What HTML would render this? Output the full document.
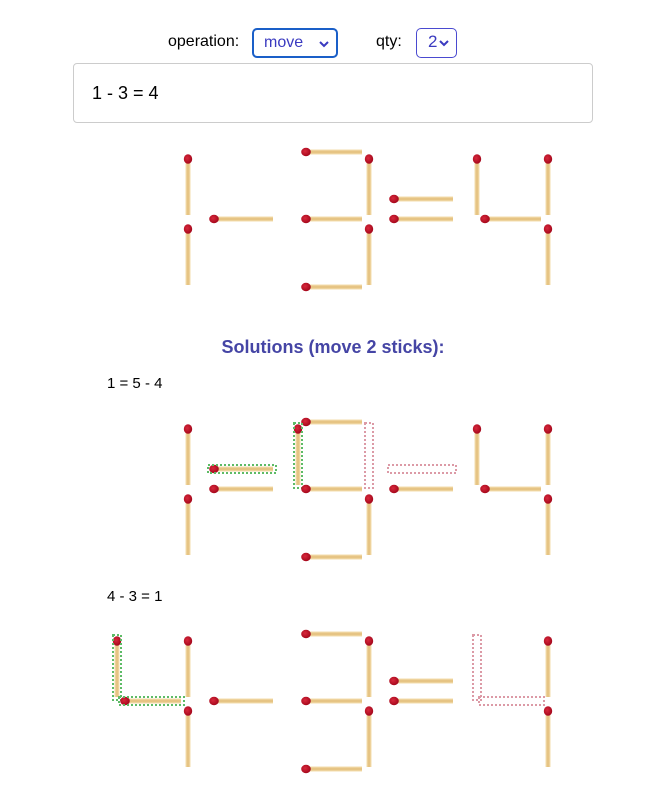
<!DOCTYPE html>
<html><head><meta charset="utf-8">
<style>
body{margin:0;width:666px;height:800px;background:#fff;font-family:"Liberation Sans",sans-serif;position:relative;overflow:hidden}
.abs{position:absolute}
.sel{position:absolute;border:2px solid #1a5fc8;border-radius:5px;color:#3a3ac0;font-size:16px;box-sizing:border-box;padding-left:10px;line-height:26px}
.chev{position:absolute;right:7px;top:0;font-size:12px}
</style></head><body>
<div class="abs" style="left:168px;top:33px;font-size:16px">operation:</div>
<div class="sel" style="left:252px;top:28px;width:86px;height:30px">move<svg class="chev" width="10" height="28" viewBox="0 0 10 28"><path d="M1 12 L5 16 L9 12" stroke="#3a3ac0" stroke-width="2" fill="none"/></svg></div>
<div class="abs" style="left:376px;top:33px;font-size:16px">qty:</div>
<div class="sel" style="left:416px;top:28px;width:41px;height:30px;border-width:1px;border-color:#4a4ad0;padding-left:11px;font-size:17px">2<svg class="chev" width="10" height="28" viewBox="0 0 10 28"><path d="M1 12 L5 16 L9 12" stroke="#3a3ac0" stroke-width="2" fill="none"/></svg></div>
<div class="abs" style="left:73px;top:63px;height:58px;border:1px solid #ccc;border-radius:4px;font-size:18px;line-height:58px;padding-left:18px;box-sizing:content-box;width:500px">1 - 3 = 4</div>
<div class="abs" style="left:0;width:666px;top:337px;text-align:center;font-size:18px;font-weight:bold;color:#4545a5">Solutions (move 2 sticks):</div>
<div class="abs" style="left:107px;top:375px;font-size:15px">1 = 5 - 4</div>
<div class="abs" style="left:107px;top:588px;font-size:15px">4 - 3 = 1</div>
<svg id="sv" class="abs" style="left:0;top:0" width="666" height="800">
<defs>
<linearGradient id="gv" x1="0" x2="1" y1="0" y2="0"><stop offset="0" stop-color="#f5e0b2"/><stop offset="0.5" stop-color="#e2bd78"/><stop offset="1" stop-color="#f5e0b2"/></linearGradient>
<linearGradient id="gh" x1="0" x2="0" y1="0" y2="1"><stop offset="0" stop-color="#f5e0b2"/><stop offset="0.5" stop-color="#e2bd78"/><stop offset="1" stop-color="#f5e0b2"/></linearGradient>
<radialGradient id="hd" cx="0.4" cy="0.4" r="0.6"><stop offset="0" stop-color="#d8283c"/><stop offset="1" stop-color="#a5081c"/></radialGradient>
</defs>
</svg>
<script>
const cellLeft=[117,207,298,387,477];
const rowTops=[152,422,634];
const row0=[["b","c"],["g"],["a","b","g","c","d"],["u","g"],["f","b","g","c"]];
const row1=[["b","c"],["u*","g"],["a","f*","g","c","d","b~"],["g","u~"],["f","b","g","c"]];
const row2=[["f*","g*","b","c"],["g"],["a","b","g","c","d"],["u","g"],["b","c","f~","g~"]];
const rows=[row0,row1,row2];
const sv=document.getElementById('sv');
const NS='http://www.w3.org/2000/svg';
function mk(t,a){const e=document.createElementNS(NS,t);for(const k in a)e.setAttribute(k,a[k]);return e;}
function geom(seg,L,T,op){
  if(op){if(seg==='g')return{h:1,x:L+6,y:T+67,len:60};if(seg==='u')return{h:1,x:L+6,y:T+47,len:60};}
  switch(seg){
    case'a':return{h:1,x:L+7,y:T,len:57};
    case'g':return{h:1,x:L+7,y:T+67,len:57};
    case'd':return{h:1,x:L+7,y:T+135,len:57};
    case'f':return{h:0,x:L,y:T+6,len:57};
    case'b':return{h:0,x:L+71,y:T+6,len:57};
    case'e':return{h:0,x:L,y:T+76,len:57};
    case'c':return{h:0,x:L+71,y:T+76,len:57};
  }
}
rows.forEach((row,ri)=>{
  const T=rowTops[ri];
  row.forEach((segs,ci)=>{
    const L=cellLeft[ci];const op=ci%2===1;
    segs.forEach(s=>{
      const seg=s[0];const mark=s[1]||'';
      const g=geom(seg,L,T,op);
      const grp=mk('g',{});
      
      
      let bx,by,bw,bh;
      if(g.h){bx=g.x-5;by=g.y-4;bw=g.len+8;bh=8;}else{bx=g.x-4;by=g.y-5;bw=8;bh=g.len+8;}
      if(mark!=='~'){
        if(g.h)grp.appendChild(mk('rect',{x:g.x,y:g.y-2.5,width:g.len,height:5,fill:'url(#gh)'}));
        else grp.appendChild(mk('rect',{x:g.x-2.5,y:g.y,width:5,height:g.len,fill:'url(#gv)'}));
        if(g.h)grp.appendChild(mk('ellipse',{cx:g.x+1,cy:g.y,rx:4.8,ry:4.2,fill:'url(#hd)'}));
        else grp.appendChild(mk('ellipse',{cx:g.x,cy:g.y+1,rx:4.2,ry:4.8,fill:'url(#hd)'}));
      }
      if(mark==='*')grp.appendChild(mk('rect',{x:bx,y:by,width:bw,height:bh,fill:'none',stroke:'#5dbb66','stroke-width':2,'stroke-dasharray':'2 2'}));
      if(mark==='~')grp.appendChild(mk('rect',{x:bx,y:by,width:bw,height:bh,fill:'none',stroke:'#dc9aa6','stroke-width':2,'stroke-dasharray':'2 2'}));
      sv.appendChild(grp);
    });
  });
});
</script>
</body></html>
